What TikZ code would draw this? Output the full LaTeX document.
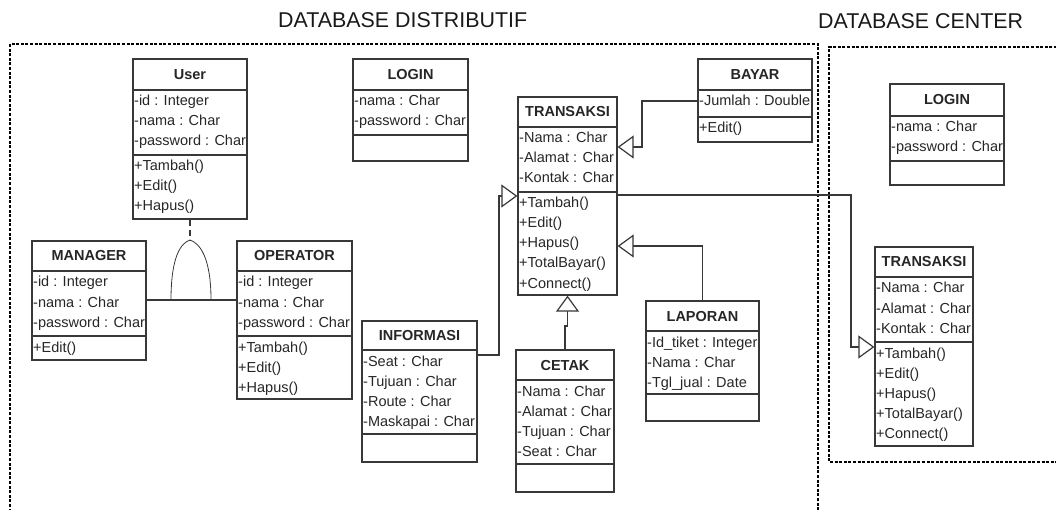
\documentclass[tikz,border=0pt]{standalone}
\usepackage{fontspec}
\setmainfont{Liberation Sans}
\usetikzlibrary{arrows.meta,fit}

\tikzset{
  classline/.style={draw=black!78, line width=1.3pt},
  member/.style={anchor=base west, inner sep=0pt, text=black!85, font=\fontsize{14.5}{17}\selectfont},
  classtitle/.style={anchor=base, inner sep=0pt, text=black!85, font=\fontsize{14.5}{17}\selectfont\bfseries},
  link/.style={draw=black!78, line width=1.2pt},
  inherit/.style={link, -{Triangle[open, length=16pt, width=23pt, fill=white]}},
  dependency/.style={draw=black!78, line width=1.2pt, dash pattern=on 6pt off 4pt},
  region/.style={draw=black, line width=1.1pt, dash pattern=on 3pt off 1.6pt},
  regiontitle/.style={anchor=base west, inner sep=0pt, text=black!90, font=\fontsize{21.4}{25}\selectfont},
}

% class frame: name, left, top, right, head rule, member rule, bottom, title
\newcommand\umlclass[8]{%
  \node[fit={(#2,#3) (#4,#7)}, inner sep=0pt, classline] (#1) {};
  \draw[classline] (#2,#5) -- (#4,#5) (#2,#6) -- (#4,#6);
  \node[classtitle] (#1-title) at ({(#2+#4)/2},{(#3+#5)/2+5}) {#8};
  \coordinate (#1-attr) at ({#2+1},{#5+16});
  \coordinate (#1-ops) at ({#2+1},{#6+16});
}
% member rows: class name, part (attr/ops), entries
\newcommand\memberlist[3]{%
  \foreach \entry [count=\k from 0] in {#3}
    \path (#1-#2) ++(0,{20*\k}) node[member] (#1-#2-\k) {\entry};
}

\begin{document}
\begin{tikzpicture}[x=1pt, y=-1pt]
\useasboundingbox (0,0) rectangle (1056,510);

% regions
\begin{scope}
  \clip (0,0) rectangle (1056,510);
  \draw[region] (10,530) -- (10,44) -- (818,44) -- (818,530);
  \draw[region] (1080,47) -- (829,47) -- (829,462) -- (1080,462);
\end{scope}
\node[regiontitle] (distTitle) at (278,28) {DATABASE DISTRIBUTIF};
\node[regiontitle] (centerTitle) at (818,29) {DATABASE CENTER};

% distributed database classes
\umlclass{user}{133}{59}{247}{90}{155}{219}{User}
\memberlist{user}{attr}{-id : Integer, -nama : Char, -password : Char}
\memberlist{user}{ops}{+Tambah(), +Edit(), +Hapus()}

\umlclass{manager}{32}{241}{146}{271}{336}{360}{MANAGER}
\memberlist{manager}{attr}{-id : Integer, -nama : Char, -password : Char}
\memberlist{manager}{ops}{+Edit()}

\umlclass{operator}{237}{241}{352}{271}{336}{399}{OPERATOR}
\memberlist{operator}{attr}{-id : Integer, -nama : Char, -password : Char}
\memberlist{operator}{ops}{+Tambah(), +Edit(), +Hapus()}

\umlclass{login}{353}{59}{468}{90}{135}{161}{LOGIN}
\memberlist{login}{attr}{-nama : Char, -password : Char}

\umlclass{trans}{518}{97}{617}{127}{192}{295}{TRANSAKSI}
\memberlist{trans}{attr}{-Nama : Char, -Alamat : Char, -Kontak : Char}
\memberlist{trans}{ops}{+Tambah(), +Edit(), +Hapus(), +TotalBayar(), +Connect()}

\umlclass{bayar}{698}{59}{812}{90}{117}{142}{BAYAR}
\memberlist{bayar}{attr}{-Jumlah : Double}
\memberlist{bayar}{ops}{+Edit()}

\umlclass{info}{362}{321}{477}{350}{434}{462}{INFORMASI}
\memberlist{info}{attr}{-Seat : Char, -Tujuan : Char, -Route : Char, -Maskapai : Char}

\umlclass{cetak}{516}{350}{614}{380}{464}{492}{CETAK}
\memberlist{cetak}{attr}{-Nama : Char, -Alamat : Char, -Tujuan : Char, -Seat : Char}

\umlclass{lap}{646}{301}{759}{331}{394}{421}{LAPORAN}
\memberlist{lap}{attr}{-Id\_tiket : Integer, -Nama : Char, -Tgl\_jual : Date}

% central database classes
\umlclass{clogin}{890}{84}{1004}{116}{161}{185}{LOGIN}
\memberlist{clogin}{attr}{-nama : Char, -password : Char}

\umlclass{ctrans}{875}{247}{973}{277}{342}{446}{TRANSAKSI}
\memberlist{ctrans}{attr}{-Nama : Char, -Alamat : Char, -Kontak : Char}
\memberlist{ctrans}{ops}{+Tambah(), +Edit(), +Hapus(), +TotalBayar(), +Connect()}

% user hierarchy: manager -- operator line with the arch from User
\coordinate (arch) at (190,240);
\draw[link] (manager.east |- 0,300) -- (operator.west |- 0,300);
\draw[dependency] (user.south) -- (arch);
\draw[link, line width=0.8pt] (171,300) .. controls (171,256) and (181,243) .. (arch)
  .. controls (199,243) and (211,256) .. (211,300);

% generalisations into TRANSAKSI
\draw[inherit] (bayar.west |- 0,101) -- (642,101) -- (642,147) -- (trans.east |- 0,147);
\draw[inherit] (lap.north) -- (lap.north |- 0,246) -- (trans.east |- 0,246);
\draw[inherit] (info.east |- 0,355) -- (499,355) -- (499,196) -- (trans.west |- 0,196);
\draw[inherit] (cetak.north) -- (cetak.north |- 0,326) -| (trans.south);
\draw[inherit] (trans.east |- 0,195) -- (851,195) -- (851,347) -- (ctrans.west |- 0,347);
\end{tikzpicture}
\end{document}
